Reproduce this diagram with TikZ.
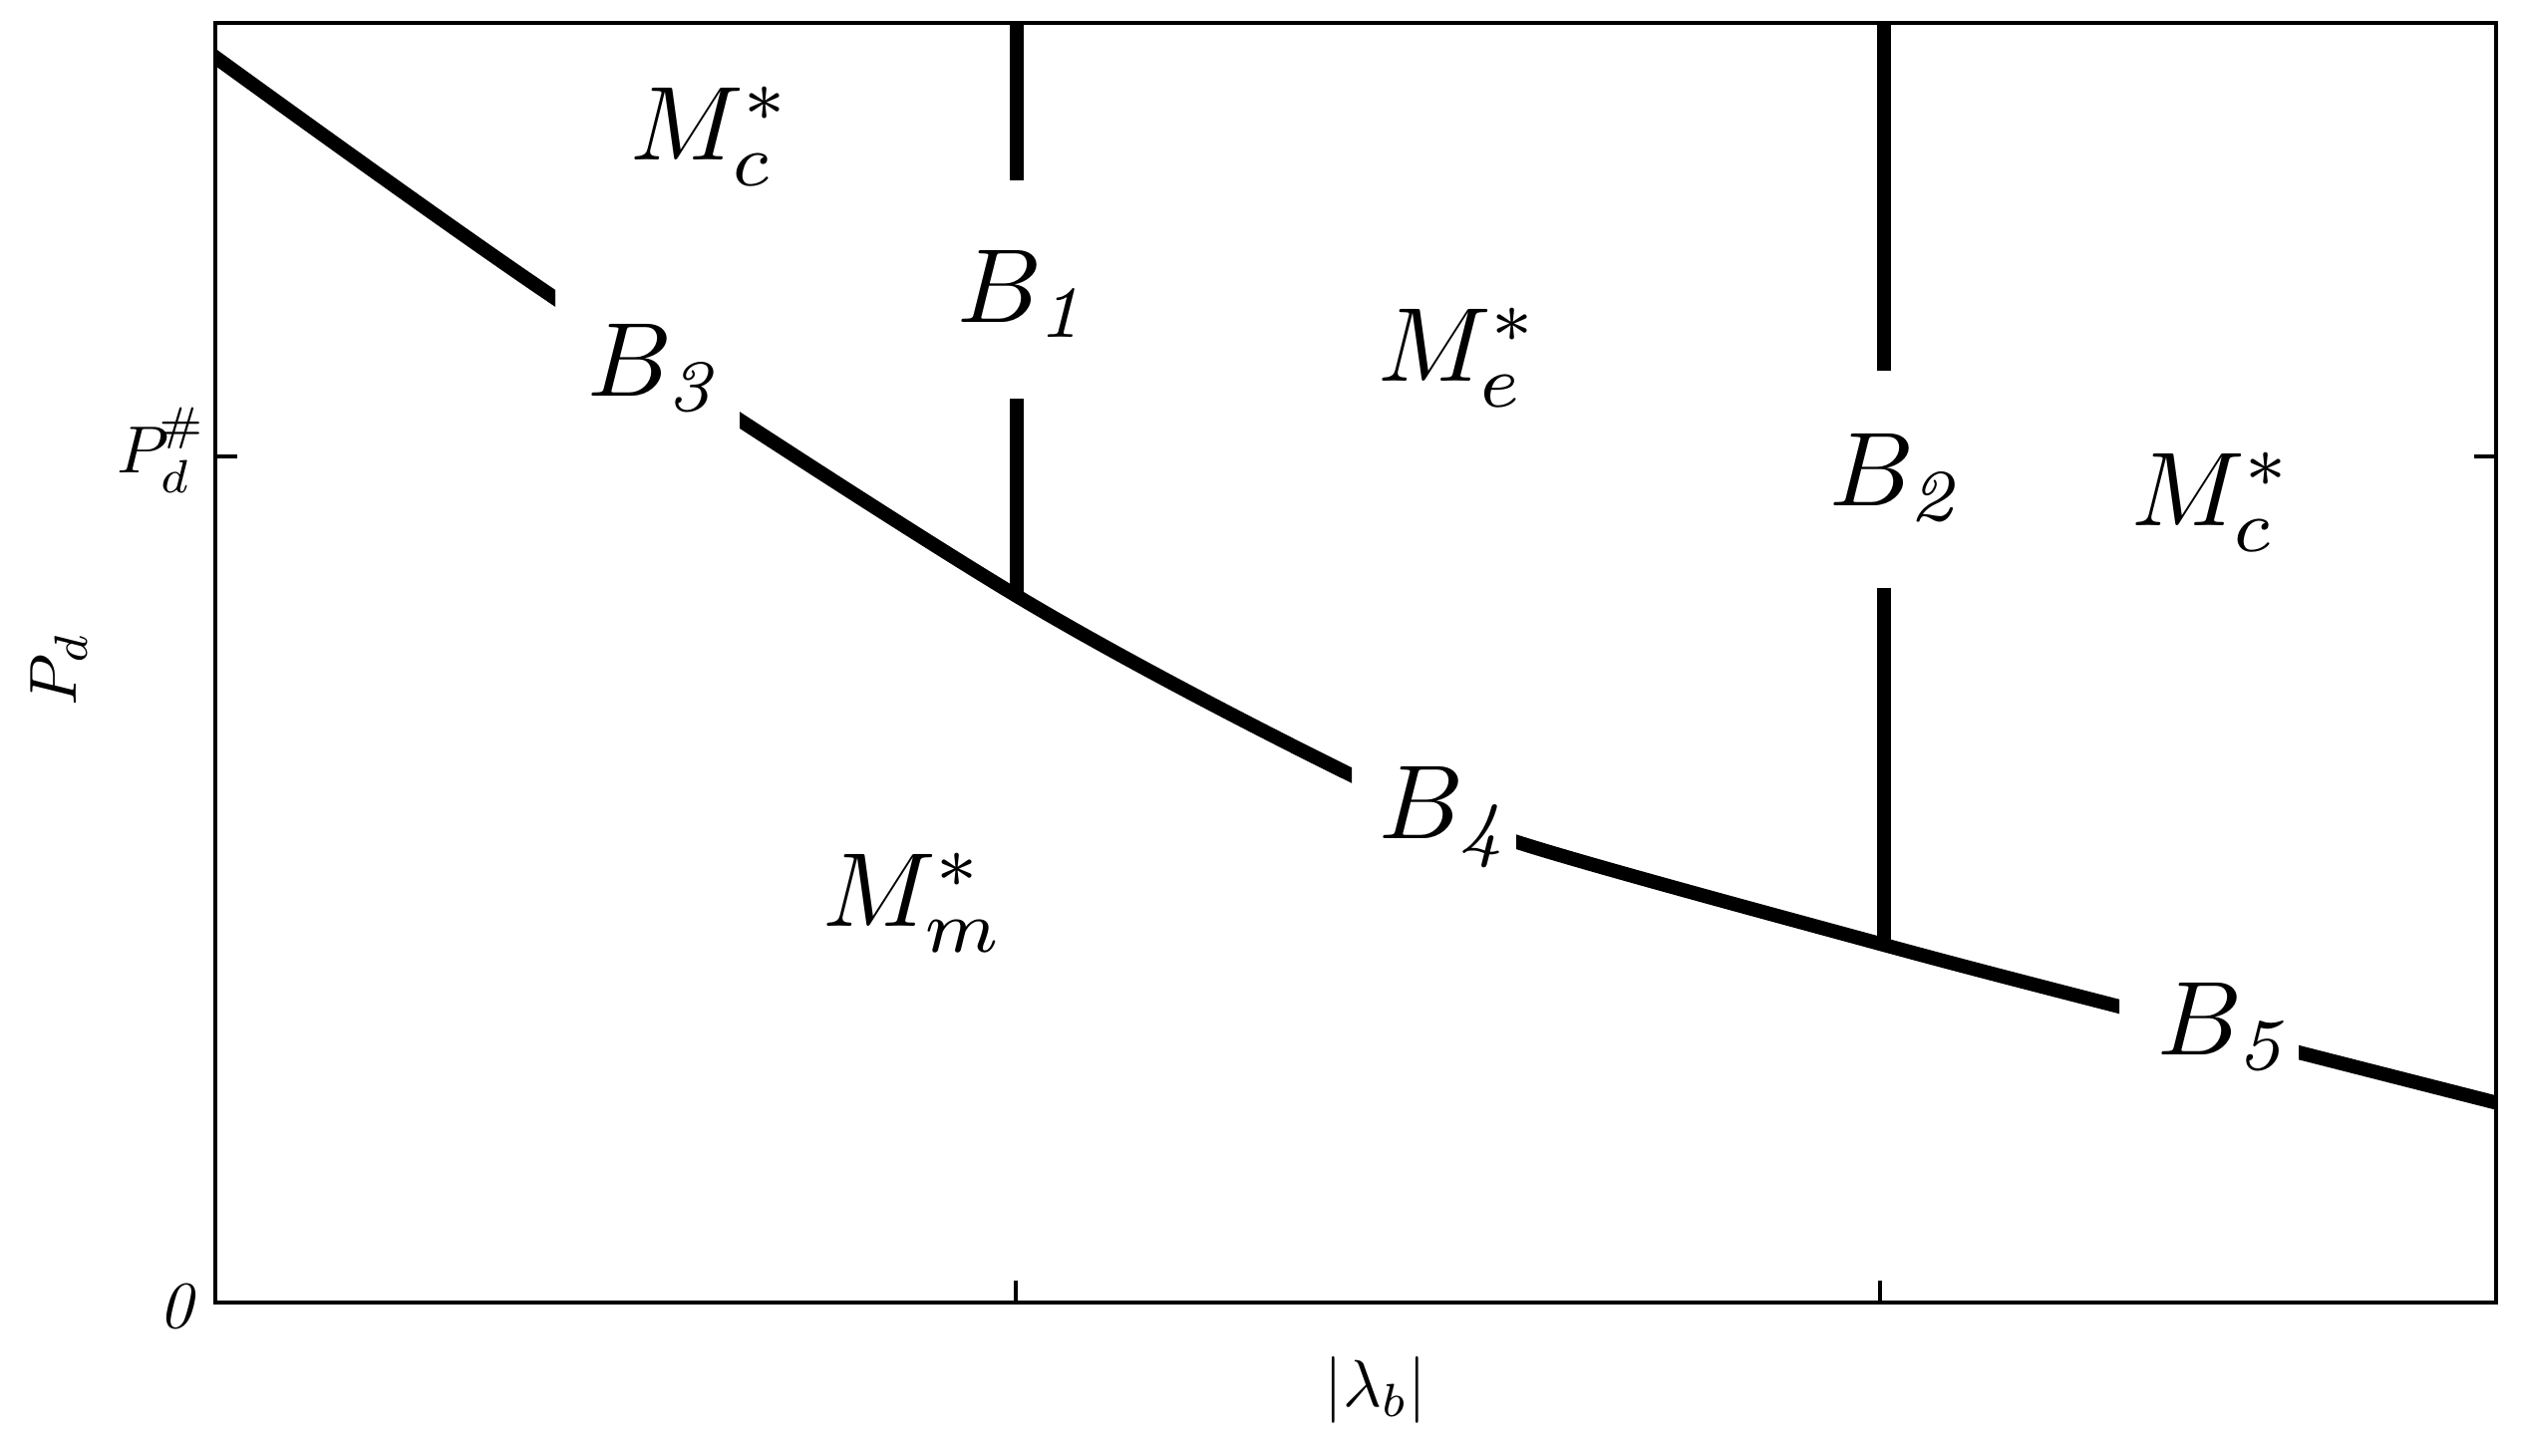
\documentclass[tikz,border=0pt]{standalone}
\begin{document}
\begin{tikzpicture}[x=0.01cm,y=-0.01cm]
\useasboundingbox (0,0) rectangle (2530,1460);
\tikzset{
  frame/.style={line width=1.15pt},
  bound/.style={line width=4pt},
  region/.style={inner sep=0pt, anchor=base west, scale=3.0},
  ticklab/.style={inner sep=0pt, scale=1.9}
}
% frame
\coordinate (tl) at (216,23);
\coordinate (br) at (2504,1307);
\draw[frame] (tl) rectangle (br);
% ticks
\coordinate (yt0) at (216,458);  \coordinate (yt1) at (238,458);
\coordinate (yr0) at (2504,458); \coordinate (yr1) at (2482,458);
\coordinate (xa0) at (1019,1307); \coordinate (xa1) at (1019,1285);
\coordinate (xb0) at (1886,1307); \coordinate (xb1) at (1886,1285);
\draw[frame] (yt0) -- (yt1) (yr0) -- (yr1) (xa0) -- (xa1) (xb0) -- (xb1);
% boundary curve with gaps
\begin{scope}
\clip (216,0) rectangle (557,1460) (742,0) rectangle (1356,1460)
      (1521,0) rectangle (2126,1460) (2306,0) rectangle (2504,1460);
\draw[bound] plot[smooth, tension=0.5] coordinates {(210,53) (558,300) (1020,598) (1350,775) (1522,845) (1886,947) (2126,1010) (2510,1108)};
\end{scope}
% vertical boundaries
\coordinate (j1) at (1020,598);
\coordinate (b1t) at (1020,23); \coordinate (b1a) at (1020,181); \coordinate (b1b) at (1020,400);
\coordinate (j2) at (1890,948);
\coordinate (b2t) at (1890,23); \coordinate (b2a) at (1890,372); \coordinate (b2b) at (1890,590);
\draw[bound] (b1t) -- (b1a) (b1b) -- (j1);
\draw[bound] (b2t) -- (b2a) (b2b) -- (j2);
% region labels
\node[region] (mc1) at (630,160) {$M_c^*$};
\node[region] (b3) at (587,397) {$B_{\mathit{3}}$};
\node[region] (b1) at (958,323) {$B_{\mathit{1}}$};
\node[region] (me) at (1380,382) {$M_e^*$};
\node[region] (b2) at (1833,507) {$B_{\mathit{2}}$};
\node[region] (mc2) at (2136,527) {$M_c^*$};
\node[region] (b4) at (1381,841) {$B_{\mathit{4}}$};
\node[region] (mm) at (823,929) {$M_m^*$};
\node[region] (b5) at (2162,1058) {$B_{\mathit{5}}$};
% axis labels
\node[ticklab, anchor=east] (zero) at (204,1311) {$\mathit{0}$};
\node[ticklab, anchor=base east] (pdh) at (208,474) {$P_d^{\kern-1.6pt\#}$};
\node[ticklab, anchor=base, rotate=90] (ylab) at (77,671) {$P_d$};
\node[ticklab, anchor=base] (xlab) at (1380,1411) {$|\lambda_b|$};
\end{tikzpicture}
\end{document}
